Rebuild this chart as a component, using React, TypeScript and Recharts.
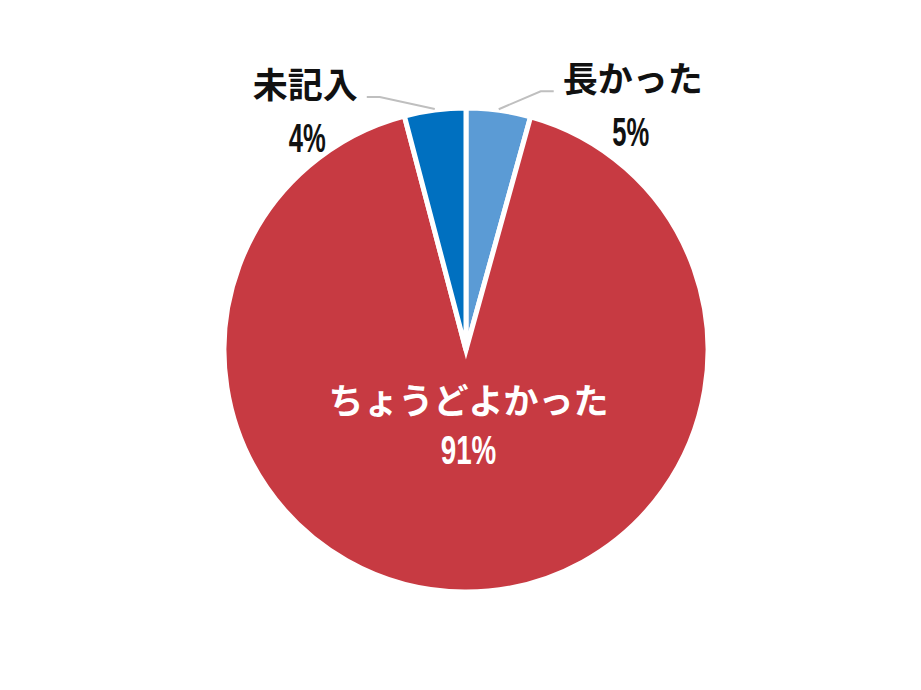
import { PieChart, Pie, Cell } from "recharts";

const categories = ["長かった", "ちょうどよかった", "未記入"];
const shares = [4.3, 91.6, 4.1];
const percentLabels = ["5%", "91%", "4%"];
const COLORS = ["#5B9BD5", "#C73A42", "#0070C0"];

const data = categories.map((name, i) => ({ name, value: shares[i], pct: percentLabels[i] }));

const RADIAN = Math.PI / 180;
const JP = "'Noto Sans CJK JP', sans-serif";
const NUM = "'Liberation Sans Narrow', 'Liberation Sans', sans-serif";
const JP_SIZE = 35;
const NUM_SIZE = 41;

// condensed digits like the original
function Pct({ x, y, text, fill }: { x: number; y: number; text: string; fill: string }) {
  return (
    <text x={x} y={y} fill={fill} textAnchor="middle" fontFamily={NUM} fontWeight={700}
      fontSize={NUM_SIZE} textLength={text.length * 18.5} lengthAdjust="spacingAndGlyphs">
      {text}
    </text>
  );
}

function renderLabel(props: any) {
  const { cx, cy, midAngle, outerRadius, index } = props;
  const d = data[index];
  const cos = Math.cos(-midAngle * RADIAN);
  const sin = Math.sin(-midAngle * RADIAN);

  // big slice: label inside
  if (d.value > 50) {
    const x = cx + outerRadius * 0.33 * cos + 3;
    const y = cy + outerRadius * 0.33 * sin;
    return (
      <g key={d.name}>
        <text x={x} y={y - 16} fill="#fff" textAnchor="middle"
          fontFamily={JP} fontWeight={700} fontSize={JP_SIZE}>
          {d.name}
        </text>
        <Pct x={x} y={y + 34} text={d.pct} fill="#fff" />
      </g>
    );
  }

  const side = cos >= 0 ? 1 : -1;
  const sx = cx + (outerRadius + 1) * cos;
  const sy = cy + (outerRadius + 1) * sin;
  const mx = sx + side * (side > 0 ? 42 : 55);
  const my = sy - (side > 0 ? 18 : 12);
  const ex = mx + side * 13;
  const w = d.name.length * JP_SIZE;
  const tx = ex + side * 9;
  return (
    <g key={d.name}>
      <polyline points={`${sx},${sy} ${mx},${my} ${ex},${my}`} fill="none" stroke="#BFBFBF" strokeWidth={2} />
      <text x={tx} y={my + 1} fill="#111" textAnchor={side > 0 ? "start" : "end"}
        fontFamily={JP} fontWeight={700} fontSize={JP_SIZE}>
        {d.name}
      </text>
      <Pct x={tx + side * (w / 2 - 2)} y={my + 55} text={d.pct} fill="#111" />
    </g>
  );
}

export default function App() {
  return (
    <div style={{ width: 921, height: 690, background: "#fff" }}>
      <style>{`body{margin:0}`}</style>
      <PieChart width={921} height={690} margin={{ top: 0, right: 0, bottom: 0, left: 0 }}>
        <Pie
          data={data}
          dataKey="value"
          nameKey="name"
          cx={466}
          cy={350}
          outerRadius={242}
          startAngle={90}
          endAngle={-270}
          stroke="#fff"
          strokeWidth={5}
          label={renderLabel}
          labelLine={false}
          isAnimationActive={false}
        >
          {data.map((d, i) => (
            <Cell key={d.name} fill={COLORS[i]} />
          ))}
        </Pie>
      </PieChart>
    </div>
  );
}
